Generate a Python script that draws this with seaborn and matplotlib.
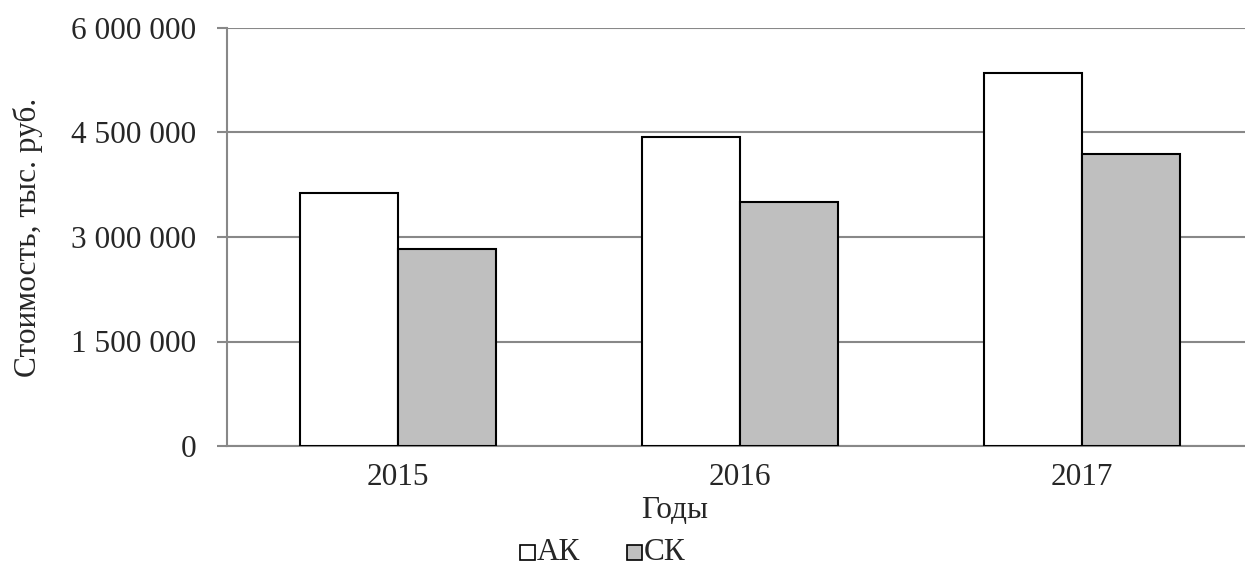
import matplotlib
matplotlib.use("Agg")
import matplotlib.pyplot as plt
from matplotlib.ticker import FuncFormatter, FixedLocator
from matplotlib.patches import Rectangle
import seaborn as sns
import pandas as pd

years = ["2015", "2016", "2017"]
series_names = ["АК", "СК"]
ak_values = [3630000, 4435000, 5355000]
sk_values = [2830000, 3500000, 4190000]

df = pd.DataFrame({
    "Год": years * 2,
    "Тип": [series_names[0]] * 3 + [series_names[1]] * 3,
    "Стоимость": ak_values + sk_values,
})

sns.set_style("white")
plt.rcParams["font.family"] = ["Liberation Serif", "DejaVu Serif"]

FS = 22.5
W, H = 1245, 567
fig = plt.figure(figsize=(W / 100, H / 100), dpi=100)
ax = fig.add_axes([227 / W, 1 - 446 / H, (1245 - 227) / W, (446 - 28) / H])

palette = {"АК": "white", "СК": "#bfbfbf"}
sns.barplot(data=df, x="Год", y="Стоимость", hue="Тип", order=years,
            hue_order=series_names, palette=palette, width=0.574,
            edgecolor="black", linewidth=1.5, ax=ax, legend=False, zorder=3)

grid_c = "#888888"
ax.set_ylim(0, 6000000)
ax.set_xlim(-0.5, 2.5 - 8 / 342)
ax.yaxis.set_major_locator(FixedLocator([0, 1500000, 3000000, 4500000, 6000000]))
ax.yaxis.set_major_formatter(FuncFormatter(lambda v, p: f"{int(v):,}".replace(",", " ")))
ax.grid(axis="y", color=grid_c, linewidth=1.5, zorder=0)
ax.set_axisbelow(True)

for s in ["top", "right"]:
    ax.spines[s].set_visible(False)
for s in ["left", "bottom"]:
    ax.spines[s].set_color(grid_c)
    ax.spines[s].set_linewidth(1.5)

ax.set_xticks(range(3))
ax.set_xticklabels(years)
ax.tick_params(axis="x", length=0, pad=12, labelsize=FS)
ax.set_xticks([-0.5, 0.5, 1.5], minor=True)
ax.tick_params(axis="x", which="minor", length=5.5, width=1.5, color=grid_c, direction="out")
ax.tick_params(axis="y", length=7, width=1.5, color=grid_c, pad=15, labelsize=FS, left=True)

ax.set_xlabel("")
ax.set_ylabel("")
fig.text(28 / W, 1 - 237 / H, "Стоимость, тыс. руб.", rotation=90,
         ha="center", va="center", fontsize=FS)
fig.text(675 / W, 1 - 510 / H, "Годы", ha="center", va="center", fontsize=FS)

# legend
for x0, name in [(520, "АК"), (627, "СК")]:
    fig.patches.append(Rectangle((x0 / W, 1 - 560 / H), 15 / W, 15 / H,
                                 transform=fig.transFigure, facecolor=palette[name],
                                 edgecolor="black", linewidth=1.2))
    fig.text((x0 + 17) / W, 1 - 553 / H, name, ha="left", va="center", fontsize=FS)

fig.savefig("out.png", dpi=100)
